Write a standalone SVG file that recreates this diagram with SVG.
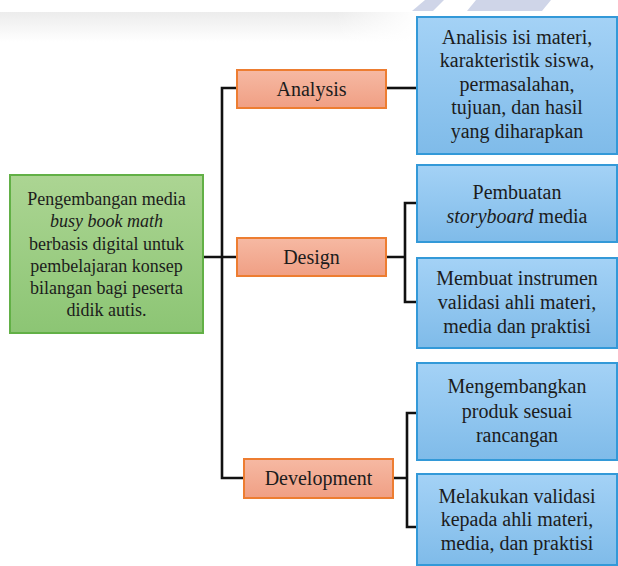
<svg xmlns="http://www.w3.org/2000/svg" width="618" height="566" viewBox="0 0 618 566" font-family="Times New Roman, Liberation Serif, serif">
<defs>
<linearGradient id="gBlue" x1="0" y1="0" x2="0" y2="1"><stop offset="0" stop-color="#a4d2f6"/><stop offset="1" stop-color="#7fbbe9"/></linearGradient>
<linearGradient id="gOrange" x1="0" y1="0" x2="0" y2="1"><stop offset="0" stop-color="#f6b9a3"/><stop offset="1" stop-color="#f09f84"/></linearGradient>
<linearGradient id="gGreen" x1="0" y1="0" x2="0" y2="1"><stop offset="0" stop-color="#acd593"/><stop offset="1" stop-color="#8cc574"/></linearGradient>
<linearGradient id="gBand" x1="0" y1="0" x2="0" y2="1"><stop offset="0" stop-color="#ececec"/><stop offset="1" stop-color="#ffffff"/></linearGradient>
<linearGradient id="gBandX" x1="0" y1="0" x2="1" y2="0"><stop offset="0" stop-color="#ffffff" stop-opacity="0"/><stop offset="0.8" stop-color="#ffffff" stop-opacity="0"/><stop offset="1" stop-color="#ffffff" stop-opacity="1"/></linearGradient>
</defs>
<style>
text{font-family:"Times New Roman","Liberation Serif",serif;fill:#1c1c1c;text-anchor:middle;font-size:20px}
.s{font-size:18px}
.i{font-style:italic}
.blue{fill:url(#gBlue);stroke:#3399d8;stroke-width:2}
.orange{fill:url(#gOrange);stroke:#ed7d31;stroke-width:2}
.green{fill:url(#gGreen);stroke:#62b046;stroke-width:2}
.c{fill:none;stroke:#111;stroke-width:2.6}
</style>
<rect width="618" height="566" fill="#ffffff"/>
<g id="background">
<rect x="0" y="12" width="420" height="30" fill="url(#gBand)"/>
<rect x="0" y="12" width="420" height="30" fill="url(#gBandX)"/>
<polygon points="412,11 425,0 444,0 433,11" fill="#cfd5e8"/>
<polygon points="467,11 476,0 551,0 542,11" fill="#cfd5e8"/>
</g>
<g id="connectors">
<path class="c" d="M203,257 H222 M237,88 H222 V478 H244 M237,257 H222"/>
<path class="c" d="M386,88 H417"/>
<path class="c" d="M386,257 H405 M417,203 H405 V302 H417"/>
<path class="c" d="M393,478 H407 M417,413 H407 V527 H417"/>
</g>
<g id="root">
<rect class="green" x="10" y="175" width="193" height="158"/>
<text class="s" x="106.5" y="205">Pengembangan media</text>
<text class="s i" x="106.5" y="227">busy book math</text>
<text class="s" x="106.5" y="249.5">berbasis digital untuk</text>
<text class="s" x="106.5" y="271.5">pembelajaran konsep</text>
<text class="s" x="106.5" y="294">bilangan bagi peserta</text>
<text class="s" x="106.5" y="316">didik autis.</text>
</g>
<g id="analysis">
<rect class="orange" x="237" y="70" width="149" height="38"/>
<text x="311.5" y="96">Analysis</text>
</g>
<g id="design">
<rect class="orange" x="237" y="238" width="149" height="38"/>
<text x="311.5" y="264">Design</text>
</g>
<g id="development">
<rect class="orange" x="244" y="459" width="149" height="39"/>
<text x="318.5" y="485">Development</text>
</g>
<g id="analysis-detail">
<rect class="blue" x="417" y="17" width="200" height="137"/>
<text x="517" y="43.5">Analisis isi materi,</text>
<text x="517" y="67">karakteristik siswa,</text>
<text x="517" y="90.5">permasalahan,</text>
<text x="517" y="114">tujuan, dan hasil</text>
<text x="517" y="137.5">yang diharapkan</text>
</g>
<g id="design-storyboard">
<rect class="blue" x="417" y="165" width="200" height="77"/>
<text x="517" y="198.5">Pembuatan</text>
<text x="517" y="222.5"><tspan class="i">storyboard</tspan> media</text>
</g>
<g id="design-instrumen">
<rect class="blue" x="417" y="258" width="200" height="90"/>
<text x="517" y="284.5">Membuat instrumen</text>
<text x="517" y="308.5">validasi ahli materi,</text>
<text x="517" y="332.5">media dan praktisi</text>
</g>
<g id="dev-produk">
<rect class="blue" x="417" y="363" width="200" height="97"/>
<text x="517" y="393">Mengembangkan</text>
<text x="517" y="417.5">produk sesuai</text>
<text x="517" y="442">rancangan</text>
</g>
<g id="dev-validasi">
<rect class="blue" x="417" y="474" width="200" height="91"/>
<text x="517" y="502.5">Melakukan validasi</text>
<text x="517" y="526">kepada ahli materi,</text>
<text x="517" y="550">media, dan praktisi</text>
</g>
</svg>
